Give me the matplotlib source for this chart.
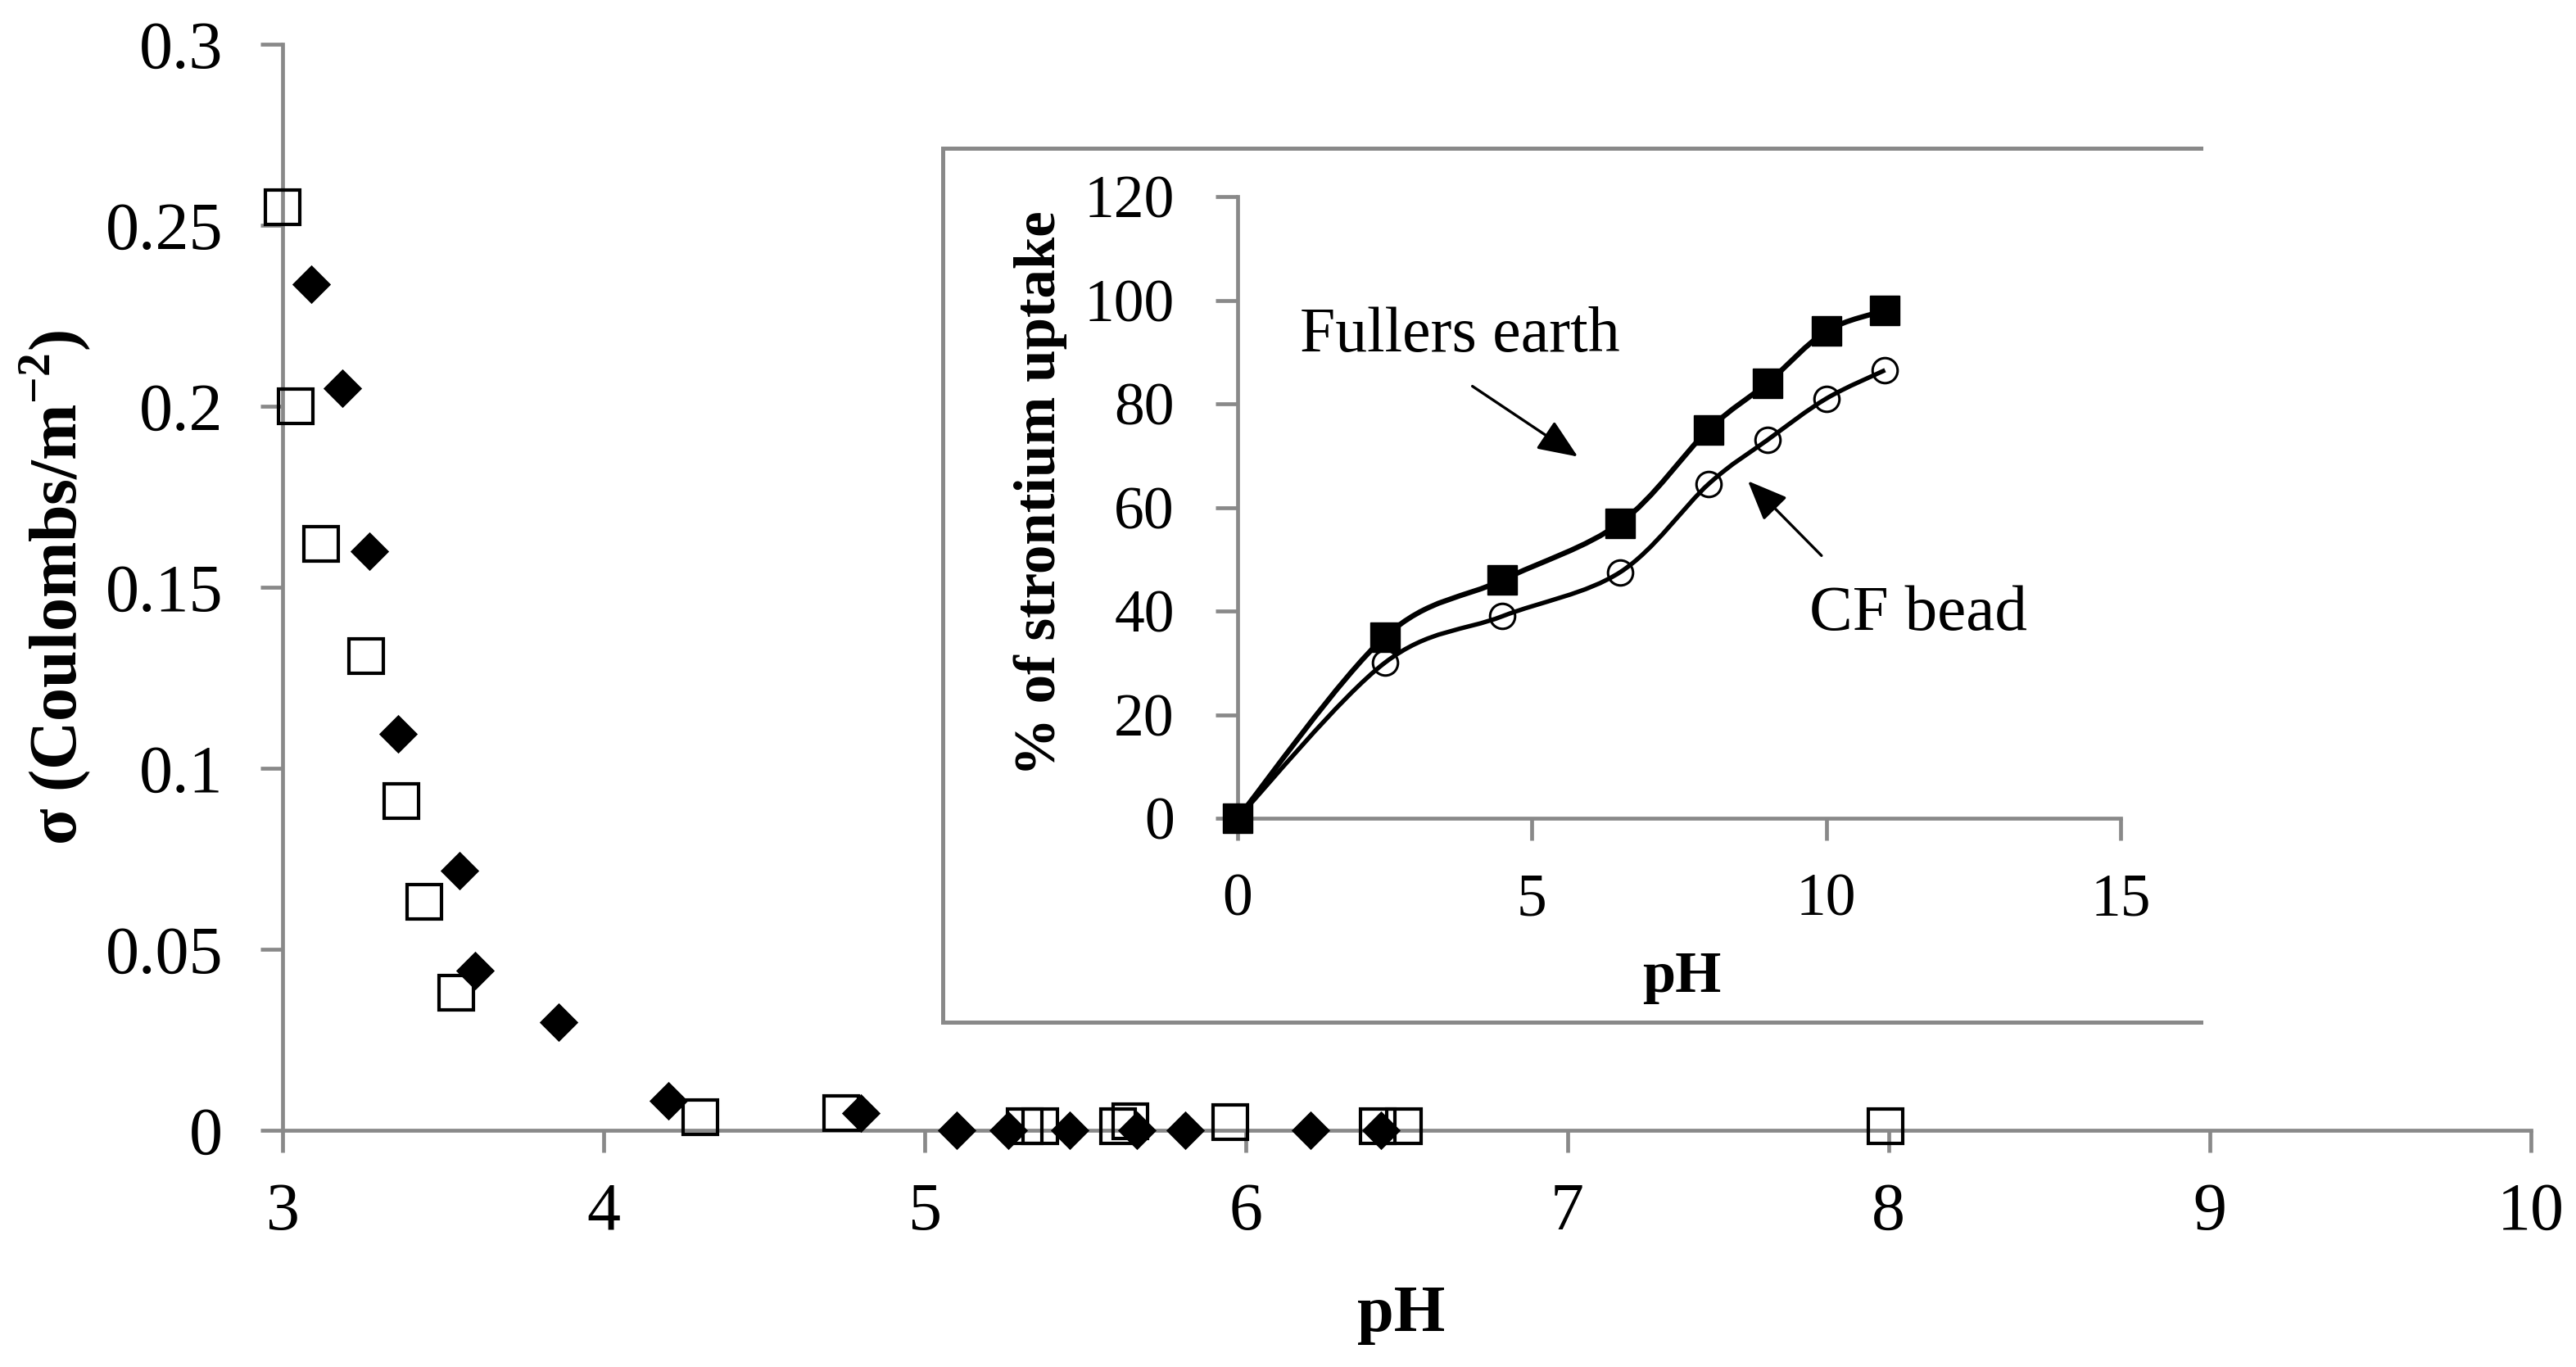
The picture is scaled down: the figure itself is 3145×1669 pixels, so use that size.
import matplotlib
matplotlib.use("Agg")
import matplotlib.pyplot as plt
from matplotlib.path import Path
from matplotlib.patches import PathPatch
from matplotlib.lines import Line2D

plt.rcParams['font.family'] = ['Liberation Serif', 'DejaVu Serif']
plt.rcParams['mathtext.fontset'] = 'custom'
plt.rcParams['mathtext.rm'] = 'Liberation Serif'
plt.rcParams['mathtext.bf'] = 'Liberation Serif:bold'

# ---- main chart data ----
sq_ph = [3.00, 3.04, 3.12, 3.26, 3.37, 3.44, 3.54, 4.30, 4.74, 5.31, 5.36, 5.60, 5.64, 5.95, 6.41, 6.49, 7.99]
sq_sigma = [0.255, 0.200, 0.162, 0.131, 0.091, 0.063, 0.038, 0.0036, 0.0047, 0.0012, 0.0012, 0.0012, 0.0025, 0.0023, 0.0012, 0.0012, 0.0012]
dm_ph = [3.09, 3.185, 3.27, 3.36, 3.55, 3.60, 3.86, 4.20, 4.80, 5.10, 5.26, 5.45, 5.66, 5.81, 6.20, 6.42]
dm_sigma = [0.2337, 0.205, 0.160, 0.1096, 0.0716, 0.0442, 0.0298, 0.0082, 0.0048, 0.0, 0.0, 0.0, 0.0, 0.0, 0.0, 0.0]
main_xticks = [3, 4, 5, 6, 7, 8, 9, 10]
main_yticks = [0, 0.05, 0.1, 0.15, 0.2, 0.25, 0.3]
main_yticklabels = ['0', '0.05', '0.1', '0.15', '0.2', '0.25', '0.3']

# ---- inset data ----
in_ph = [0, 2.5, 4.5, 6.5, 8, 9, 10, 11]
fullers = [0, 35, 46, 57, 75, 84, 94, 98]
cf_bead = [0, 30, 39, 47.5, 64.5, 73, 81, 86.5]
in_xticks = [0, 5, 10, 15]
in_yticks = [0, 20, 40, 60, 80, 100, 120]

GRAY = '#898989'

fig = plt.figure(figsize=(31.45, 16.69), dpi=100)

# ---------------- main axes ----------------
ax = fig.add_axes([0.1097, 0.1732, 0.8728, 0.7944])
ax.set_xlim(3, 10)
ax.set_ylim(0, 0.3)
for s in ['top', 'right']:
    ax.spines[s].set_visible(False)
for s in ['left', 'bottom']:
    ax.spines[s].set_color(GRAY)
    ax.spines[s].set_linewidth(3.4)
ax.set_xticks(main_xticks)
ax.set_yticks(main_yticks)
ax.set_yticklabels(main_yticklabels)
ax.tick_params(axis='both', direction='out', length=19.5, width=3.4, color=GRAY,
               labelcolor='black', labelsize=59)
ax.tick_params(axis='x', pad=26)
ax.tick_params(axis='y', pad=33)

ax.plot(sq_ph, sq_sigma, linestyle='none', marker='s', ms=30, mfc='none', mec='black',
        mew=3.0, clip_on=False, zorder=3)
diamond = [(-1, 0), (0, 1), (1, 0), (0, -1), (-1, 0)]
ax.plot(dm_ph, dm_sigma, linestyle='none', marker=diamond, ms=34, mfc='black', mec='black',
        mew=0, clip_on=False, zorder=4)

ax.set_ylabel(r'σ (Coulombs/m$^{\mathbf{-2}}$)', fontsize=59, fontweight='bold')
ax.yaxis.set_label_coords(-0.101, 0.50)
ax.yaxis.label.set_va('center')
ax.yaxis.label.set_ha('center')
ax.set_xlabel('pH', fontsize=58, fontweight='bold')
ax.xaxis.set_label_coords(0.4975, -0.170)
ax.xaxis.label.set_va('center')

# ---------------- inset frame ----------------
bx0, bx1, by0, by1 = 0.366, 0.8544, 0.2522, 0.8916
fig.add_artist(Line2D([bx1, bx0, bx0, bx1], [by1, by1, by0, by0], transform=fig.transFigure,
                      color=GRAY, lw=3.6, solid_joinstyle='miter'))

# ---------------- inset axes ----------------
ax2 = fig.add_axes([0.4804, 0.4014, 0.3428, 0.4548])
ax2.set_xlim(0, 15)
ax2.set_ylim(0, 120)
ax2.patch.set_alpha(0)
for s in ['top', 'right']:
    ax2.spines[s].set_visible(False)
for s in ['left', 'bottom']:
    ax2.spines[s].set_color(GRAY)
    ax2.spines[s].set_linewidth(3.4)
ax2.set_xticks(in_xticks)
ax2.set_yticks(in_yticks)
ax2.tick_params(axis='both', direction='out', length=19.5, width=3.4, color=GRAY,
                labelcolor='black', labelsize=53)
ax2.tick_params(axis='x', pad=29)
ax2.tick_params(axis='y', pad=36)


def smooth_patch(xs, ys, lw):
    n = len(xs)
    verts = [(xs[0], ys[0])]
    codes = [Path.MOVETO]
    for i in range(n - 1):
        a = i - 1 if i > 0 else i
        d = i + 2 if i + 2 < n else i + 1
        c1 = (xs[i] + (xs[i + 1] - xs[a]) / 6.0, ys[i] + (ys[i + 1] - ys[a]) / 6.0)
        c2 = (xs[i + 1] - (xs[d] - xs[i]) / 6.0, ys[i + 1] - (ys[d] - ys[i]) / 6.0)
        verts += [c1, c2, (xs[i + 1], ys[i + 1])]
        codes += [Path.CURVE4] * 3
    return PathPatch(Path(verts, codes), fill=False, edgecolor='black', lw=lw,
                     transform=ax2.transData, clip_on=False, zorder=2)


ax2.add_patch(smooth_patch(in_ph, fullers, 4.6))
ax2.add_patch(smooth_patch(in_ph, cf_bead, 3.9))
ax2.plot(in_ph, fullers, linestyle='none', marker='s', ms=26, mfc='black', mec='black',
         clip_on=False, zorder=4)
ax2.plot(in_ph, cf_bead, linestyle='none', marker='o', ms=22, mfc='none', mec='black',
         mew=2.2, clip_on=False, zorder=4)

ax2.set_ylabel('% of strontium uptake', fontsize=51, fontweight='bold')
ax2.yaxis.set_label_coords(-0.2236, 0.523)
ax2.yaxis.label.set_va('center')
ax2.yaxis.label.set_ha('center')
ax2.set_xlabel('pH', fontsize=52, fontweight='bold')
ax2.xaxis.set_label_coords(0.503, -0.2556)
ax2.xaxis.label.set_va('center')

ax2.text(1.06, 90.2, 'Fullers earth', fontsize=56, ha='left', va='baseline')
ax2.text(9.72, 36.3, 'CF bead', fontsize=57, ha='left', va='baseline')
arrow_style = dict(arrowstyle='-|>,head_length=0.6,head_width=0.25', mutation_scale=50,
                   lw=2.4, color='black', shrinkA=0, shrinkB=0)
ax2.annotate('', xy=(5.78, 69.8), xytext=(3.99, 83.4), arrowprops=arrow_style)
ax2.annotate('', xy=(8.67, 65.1), xytext=(9.92, 50.7), arrowprops=arrow_style)

fig.savefig('out.png', dpi=100, facecolor='white')
